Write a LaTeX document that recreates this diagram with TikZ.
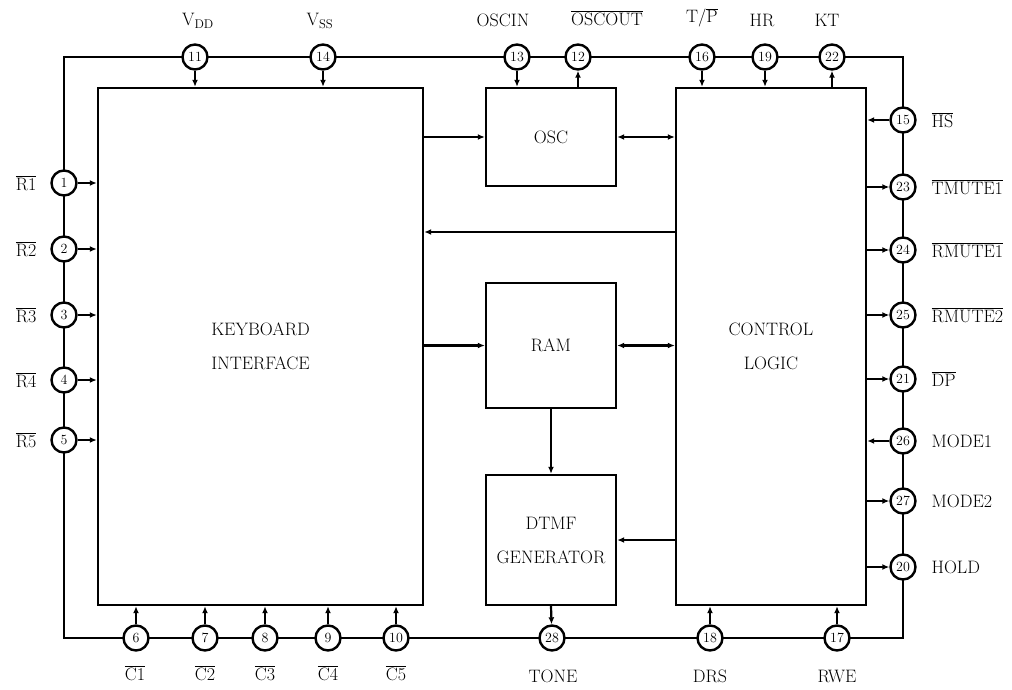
\documentclass[tikz,border=0pt]{standalone}
\usepackage{fontspec}
\usetikzlibrary{arrows.meta,positioning,calc}
\newcommand{\ovl}[1]{$\overline{\mathrm{#1}}$}
\begin{document}
\begin{tikzpicture}[x=1pt,y=-1pt,font=\fontsize{18}{20}\selectfont,box/.style={draw,line width=2.4pt,align=center,font=\fontsize{18}{34}\selectfont},pin/.style={draw,circle,fill=white,line width=2.4pt,minimum size=25pt,inner sep=0pt,font=\fontsize{14}{14}\selectfont},arr/.style={-{Latex[length=7pt,width=6pt]},line width=2.2pt},biarr/.style={{Latex[length=7pt,width=6pt]}-{Latex[length=7pt,width=6pt]},line width=2.2pt}]
\useasboundingbox (0,0) rectangle (1012,690);
% blocks
\node[box,minimum width=325pt,minimum height=517pt] (kbd) at (260.5,346.5) {KEYBOARD\\INTERFACE};
\node[box,minimum width=130pt,minimum height=98pt] (osc) at (551,137) {OSC};
\node[box,minimum width=130pt,minimum height=125pt] (ram) at (551,345.5) {RAM};
\node[box,minimum width=130pt,minimum height=130pt] (dtmf) at (551,540) {DTMF\\GENERATOR};
\node[box,minimum width=190pt,minimum height=517pt] (ctrl) at (771,346.5) {CONTROL\\LOGIC};
% pin bus
\draw[line width=2.2pt] (64,57) rectangle (903,638);
% top pins
\node[pin] (p11) at (195,57) {11};\node[pin] (p14) at (323,57) {14};\node[pin] (p13) at (517,57) {13};\node[pin] (p12) at (578,57) {12};
\node[pin] (p16) at (702,57) {16};\node[pin] (p19) at (765,57) {19};\node[pin] (p22) at (832,57) {22};
% left pins
\node[pin] (p1) at (64,183) {1};\node[pin] (p2) at (64,249) {2};\node[pin] (p3) at (64,315) {3};\node[pin] (p4) at (64,380) {4};\node[pin] (p5) at (64,440) {5};
% bottom pins
\node[pin] (p6) at (136,638) {6};\node[pin] (p7) at (205,638) {7};\node[pin] (p8) at (265,638) {8};\node[pin] (p9) at (328,638) {9};\node[pin] (p10) at (396,638) {10};
\node[pin] (p28) at (552,638) {28};\node[pin] (p18) at (710,638) {18};\node[pin] (p17) at (837,638) {17};
% right pins
\node[pin] (p15) at (903,120) {15};\node[pin] (p23) at (903,187) {23};\node[pin] (p24) at (903,250) {24};\node[pin] (p25) at (903,315) {25};
\node[pin] (p21) at (903,379) {21};\node[pin] (p26) at (903,441) {26};\node[pin] (p27) at (903,501) {27};\node[pin] (p20) at (903,567) {20};
% pin labels
\node (lvdd) at (198,21) {$\mathrm{V_{DD}}$};\node (lvss) at (320,21) {$\mathrm{V_{SS}}$};\node (loscin) at (503,20) {OSCIN};\node (loscout) at (607,18) {\ovl{OSCOUT}};
\node (ltp) at (702,18) {T/\ovl{P}};\node (lhr) at (762,20) {HR};\node (lkt) at (827,20) {KT};
\node[left] (lr1) at (40,183) {\ovl{R1}};\node[left] (lr2) at (40,249) {\ovl{R2}};\node[left] (lr3) at (40,315) {\ovl{R3}};\node[left] (lr4) at (40,380) {\ovl{R4}};\node[left] (lr5) at (40,440) {\ovl{R5}};
\node (lc1) at (135,673) {\ovl{C1}};\node (lc2) at (205,673) {\ovl{C2}};\node (lc3) at (265,673) {\ovl{C3}};\node (lc4) at (328,673) {\ovl{C4}};\node (lc5) at (396,673) {\ovl{C5}};
\node (ltone) at (553,676) {TONE};\node (ldrs) at (710,676) {DRS};\node (lrwe) at (837,676) {RWE};
\node[right] (lhs) at (928,120) {\ovl{HS}};\node[right] (ltm1) at (928,187) {\ovl{TMUTE1}};\node[right] (lrm1) at (928,250) {\ovl{RMUTE1}};\node[right] (lrm2) at (928,315) {\ovl{RMUTE2}};
\node[right] (ldp) at (928,379) {\ovl{DP}};\node[right] (lmd1) at (928,441) {MODE1};\node[right] (lmd2) at (928,501) {MODE2};\node[right] (lhold) at (928,567) {HOLD};
% pin leads
\draw[arr] (p11) -- (p11 |- kbd.north);\draw[arr] (p14) -- (p14 |- kbd.north);\draw[arr] (p13) -- (p13 |- osc.north);\draw[arr] (p12 |- osc.north) -- (p12);
\draw[arr] (p16) -- (p16 |- ctrl.north);\draw[arr] (p19) -- (p19 |- ctrl.north);\draw[arr] (p22 |- ctrl.north) -- (p22);
\draw[arr] (p1) -- (p1 -| kbd.west);\draw[arr] (p2) -- (p2 -| kbd.west);\draw[arr] (p3) -- (p3 -| kbd.west);\draw[arr] (p4) -- (p4 -| kbd.west);\draw[arr] (p5) -- (p5 -| kbd.west);
\draw[arr] (p6) -- (p6 |- kbd.south);\draw[arr] (p7) -- (p7 |- kbd.south);\draw[arr] (p8) -- (p8 |- kbd.south);\draw[arr] (p9) -- (p9 |- kbd.south);\draw[arr] (p10) -- (p10 |- kbd.south);
\draw[arr] (dtmf.south) -- (p28);\draw[arr] (p18) -- (p18 |- ctrl.south);\draw[arr] (p17) -- (p17 |- ctrl.south);
\draw[arr] (p15) -- (p15 -| ctrl.east);\draw[arr] (p23 -| ctrl.east) -- (p23);\draw[arr] (p24 -| ctrl.east) -- (p24);\draw[arr] (p25 -| ctrl.east) -- (p25);
\draw[arr] (p21 -| ctrl.east) -- (p21);\draw[arr] (p26) -- (p26 -| ctrl.east);\draw[arr] (p27 -| ctrl.east) -- (p27);\draw[arr] (p20 -| ctrl.east) -- (p20);
% internal paths
\draw[arr] (kbd.east |- osc.west) -- (osc.west);\draw[biarr] (osc.east) -- (osc.east -| ctrl.west);
\draw[arr] (ctrl.west |- 0,232) -- (kbd.east |- 0,232);
\draw[arr] (kbd.east |- ram.west) -- (ram.west);\draw[biarr] (ram.east) -- (ram.east -| ctrl.west);
\draw[arr] (ram.south) -- (dtmf.north);\draw[arr] (ctrl.west |- dtmf.east) -- (dtmf.east);
\end{tikzpicture}
\end{document}
